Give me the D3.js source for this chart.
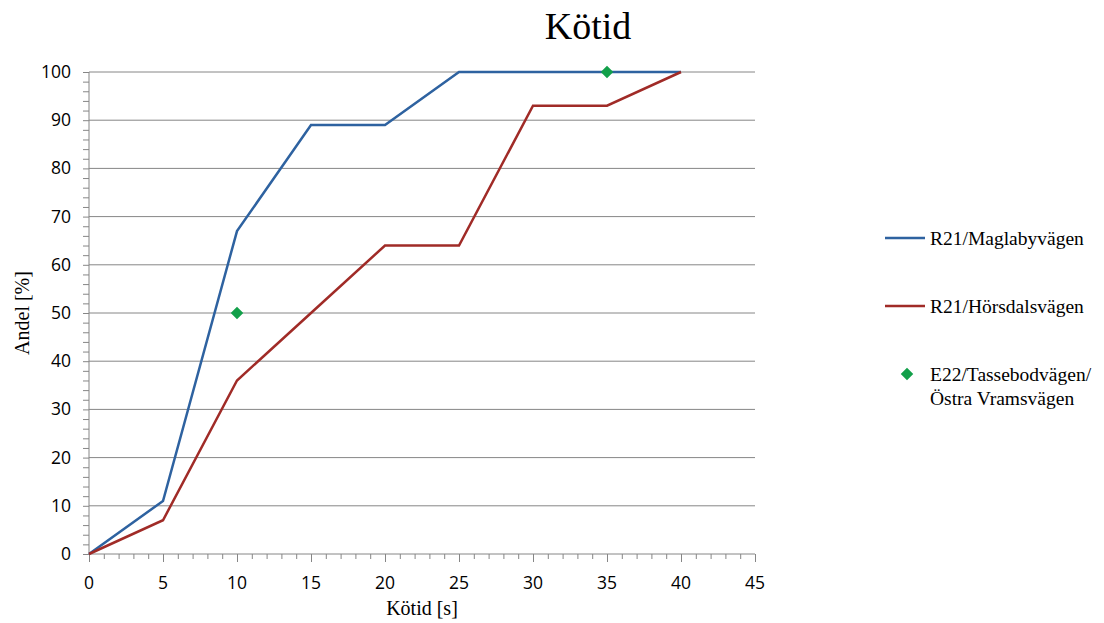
<!DOCTYPE html>
<html>
<head>
<meta charset="utf-8">
<script src="https://cdn.jsdelivr.net/npm/d3@7"></script>
<style>
body{margin:0;background:#fff;}
</style>
</head>
<body>
<svg width="1104" height="623"></svg>
<script>
const xValues=[0,5,10,15,20,25,30,35,40];
const maglaby=[0,11,67,89,89,100,100,100,100];
const horsdals=[0,7,36,50,64,64,93,93,100];
const tassePoints=[[10,50],[35,100]];
const seriesNames=["R21/Maglabyvägen","R21/Hörsdalsvägen","E22/Tassebodvägen/","Östra Vramsvägen"];

const svg=d3.select("svg");
const plotLeft=89, plotRight=755, plotTop=72, plotBottom=554;
const sans="'Open Sans', 'DejaVu Sans', sans-serif";
const serif="'Liberation Serif', 'Times New Roman', serif";

const x=d3.scaleLinear().domain([0,45]).range([plotLeft,plotRight]);
const y=d3.scaleLinear().domain([0,100]).range([plotBottom,plotTop]);

//GRID
svg.append("g").selectAll("line")
   .data(d3.range(10,101,10))
   .enter().append("line")
   .attr("x1",plotLeft).attr("x2",plotRight)
   .attr("y1",d=>y(d)).attr("y2",d=>y(d))
   .attr("stroke","#868686").attr("stroke-width",1);

//Y AXIS minor + major
const yAx=svg.append("g").attr("transform","translate("+plotLeft+",0)");
yAx.call(d3.axisLeft(y).tickValues(d3.range(0,101,2)).tickSize(6).tickFormat(""));
yAx.call(g=>g.select(".domain").remove());
yAx.append("line").attr("x1",0).attr("x2",0).attr("y1",plotTop).attr("y2",plotBottom).attr("stroke","#868686");
yAx.selectAll(".tick line").attr("stroke","#868686");
svg.append("g").selectAll("text")
   .data(d3.range(0,101,10))
   .enter().append("text")
   .attr("x",71).attr("y",d=>y(d)+6)
   .attr("text-anchor","end")
   .attr("font-family",sans).attr("font-size","17.5px").attr("fill","#000")
   .text(d=>d);

//X AXIS
const xAx=svg.append("g").attr("transform","translate(0,"+plotBottom+")");
xAx.call(d3.axisBottom(x).tickValues(d3.range(0,46,1)).tickSize(5).tickFormat(""));
xAx.call(g=>g.select(".domain").remove());
xAx.selectAll(".tick line").attr("stroke","#868686")
   .attr("y2",d=>d%5===0?8:5);
xAx.append("line").attr("x1",plotLeft).attr("x2",plotRight).attr("y1",0).attr("y2",0).attr("stroke","#868686");
svg.append("g").selectAll("text")
   .data(d3.range(0,46,5))
   .enter().append("text")
   .attr("x",d=>x(d)).attr("y",589)
   .attr("text-anchor","middle")
   .attr("font-family",sans).attr("font-size","17.5px").attr("fill","#000")
   .text(d=>d);

//LINES
const line=d3.line().x(d=>x(d[0])).y(d=>y(d[1]));
svg.append("path").datum(xValues.map((v,i)=>[v,maglaby[i]]))
   .attr("d",line).attr("fill","none").attr("stroke","#2E62A0").attr("stroke-width",2.5);
svg.append("path").datum(xValues.map((v,i)=>[v,horsdals[i]]))
   .attr("d",line).attr("fill","none").attr("stroke","#A02B27").attr("stroke-width",2.5);

const diamond=d3.symbol().type(d3.symbolDiamond2).size(100);
svg.append("g").selectAll("path")
   .data(tassePoints)
   .enter().append("path")
   .attr("d",diamond)
   .attr("transform",d=>"translate("+x(d[0])+","+y(d[1])+")")
   .attr("fill","#12A04A");

//TITLES
svg.append("text").attr("x",588).attr("y",39).attr("text-anchor","middle")
   .attr("font-family",serif).attr("font-size","38px").text("Kötid");
svg.append("text").attr("x",422).attr("y",615).attr("text-anchor","middle")
   .attr("font-family",serif).attr("font-size","20px").text("Kötid [s]");
svg.append("text").attr("transform","translate(29,313) rotate(-90)").attr("text-anchor","middle")
   .attr("font-family",serif).attr("font-size","20px").text("Andel [%]");

//LEGEND
const lg=svg.append("g").attr("font-family",serif).attr("font-size","19.5px");
lg.append("line").attr("x1",885).attr("x2",925).attr("y1",238).attr("y2",238).attr("stroke","#2E62A0").attr("stroke-width",2.5);
lg.append("text").attr("x",930).attr("y",245).text(seriesNames[0]);
lg.append("line").attr("x1",885).attr("x2",925).attr("y1",306).attr("y2",306).attr("stroke","#A02B27").attr("stroke-width",2.5);
lg.append("text").attr("x",930).attr("y",313).text(seriesNames[1]);
lg.append("path").attr("d",diamond).attr("transform","translate(907,374)").attr("fill","#12A04A");
lg.append("text").attr("x",930).attr("y",381).text(seriesNames[2]);
lg.append("text").attr("x",930).attr("y",405).text(seriesNames[3]);
</script>
</body>
</html>
